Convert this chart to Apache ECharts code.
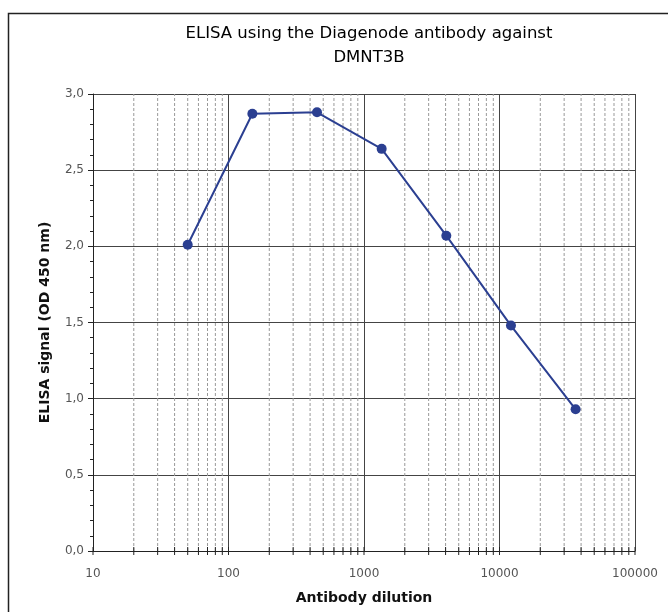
<!DOCTYPE html>
<html>
<head>
<meta charset="utf-8">
<script src="https://cdn.jsdelivr.net/npm/echarts@6/dist/echarts.min.js"></script>
<style>
  html, body { margin: 0; padding: 0; background: #fff; }
  #chart { width: 668px; height: 612px; }
</style>
</head>
<body>
<div id="chart"></div>
<script>
// antibody dilutions and measured signal
const dilutions = [50, 150, 450, 1350, 4050, 12150, 36450];
const signal = [2.01, 2.87, 2.88, 2.64, 2.07, 1.48, 0.93];

// log minor grid positions (2..9 per decade)
const minorX = [];
[10, 100, 1000, 10000].forEach(function (d) {
  for (let k = 2; k <= 9; k++) minorX.push(d * k);
});
const decadeX = [10, 100, 1000, 10000, 100000];

const chart = echarts.init(document.getElementById("chart"));

const option = {
  animation: false,
  textStyle: { fontFamily: "DejaVu Sans, sans-serif" },
  title: {
    text: "ELISA using the Diagenode antibody against\nDMNT3B",
    left: 364,
    top: 17,
    textAlign: "center",
    textStyle: {
      fontFamily: "DejaVu Sans, sans-serif",
      fontSize: 16.5,
      fontWeight: "normal",
      color: "#000",
      lineHeight: 24,
    },
  },
  graphic: [
    {
      type: "rect",
      shape: { x: 8.5, y: 13.5, width: 700, height: 700 },
      style: { fill: "none", stroke: "#222", lineWidth: 1.5 },
      silent: true,
    },
  ],
  grid: { left: 93, right: 33, top: 94, bottom: 61, outerBoundsMode: "none", containLabel: false },
  xAxis: {
    type: "log",
    logBase: 10,
    min: 10,
    max: 100000,
    name: "Antibody dilution",
    nameLocation: "middle",
    nameGap: 40,
    nameTextStyle: { fontSize: 14, fontWeight: "bold", color: "#111" },
    axisLine: { lineStyle: { color: "#222", width: 1 } },
    axisTick: { show: false },
    axisLabel: {
      color: "#555",
      fontSize: 12,
      margin: 17,
      formatter: function (v) { return String(Math.round(v)); },
    },
    splitLine: { show: true, lineStyle: { color: "#444", width: 1 } },
  },
  yAxis: {
    type: "value",
    min: 0,
    max: 3,
    interval: 0.5,
    name: "ELISA signal (OD 450 nm)",
    nameLocation: "middle",
    nameGap: 41,
    nameTextStyle: { fontSize: 14, fontWeight: "bold", color: "#111" },
    axisLine: { show: true, lineStyle: { color: "#222", width: 1 } },
    axisTick: { show: true, length: 5, lineStyle: { color: "#222" } },
    minorTick: { show: true, splitNumber: 5, length: 3, lineStyle: { color: "#222" } },
    axisLabel: {
      color: "#555",
      fontSize: 12,
      margin: 9,
      formatter: function (v) { return v.toFixed(1).replace(".", ","); },
    },
    splitLine: { show: true, lineStyle: { color: "#444", width: 1 } },
  },
  series: [
    {
      type: "custom",
      silent: true,
      z: 1,
      data: minorX.map(function (v) { return [v, 0]; }),
      renderItem: function (params, api) {
        const p0 = api.coord([api.value(0), 0]);
        const p1 = api.coord([api.value(0), 3]);
        return {
          type: "group",
          children: [
            {
              type: "line",
              shape: { x1: p0[0], y1: p0[1], x2: p1[0], y2: p1[1] },
              style: { stroke: "#999", lineWidth: 1, lineDash: [3, 2] },
            },
            {
              type: "line",
              shape: { x1: p0[0], y1: p0[1] - 4, x2: p0[0], y2: p0[1] + 4 },
              style: { stroke: "#222", lineWidth: 1 },
            },
          ],
        };
      },
    },
    {
      type: "custom",
      silent: true,
      z: 1,
      clip: false,
      data: decadeX.map(function (v) { return [v, 0]; }),
      renderItem: function (params, api) {
        const p0 = api.coord([api.value(0), 0]);
        return {
          type: "line",
          shape: { x1: p0[0], y1: p0[1] - 4, x2: p0[0], y2: p0[1] + 4 },
          style: { stroke: "#222", lineWidth: 1 },
        };
      },
    },
    {
      type: "line",
      z: 5,
      data: dilutions.map(function (d, i) { return [d, signal[i]]; }),
      symbol: "circle",
      symbolSize: 10,
      lineStyle: { color: "#2b3f91", width: 2 },
      itemStyle: { color: "#2b3f91" },
    },
  ],
};

chart.setOption(option);
</script>
</body>
</html>
